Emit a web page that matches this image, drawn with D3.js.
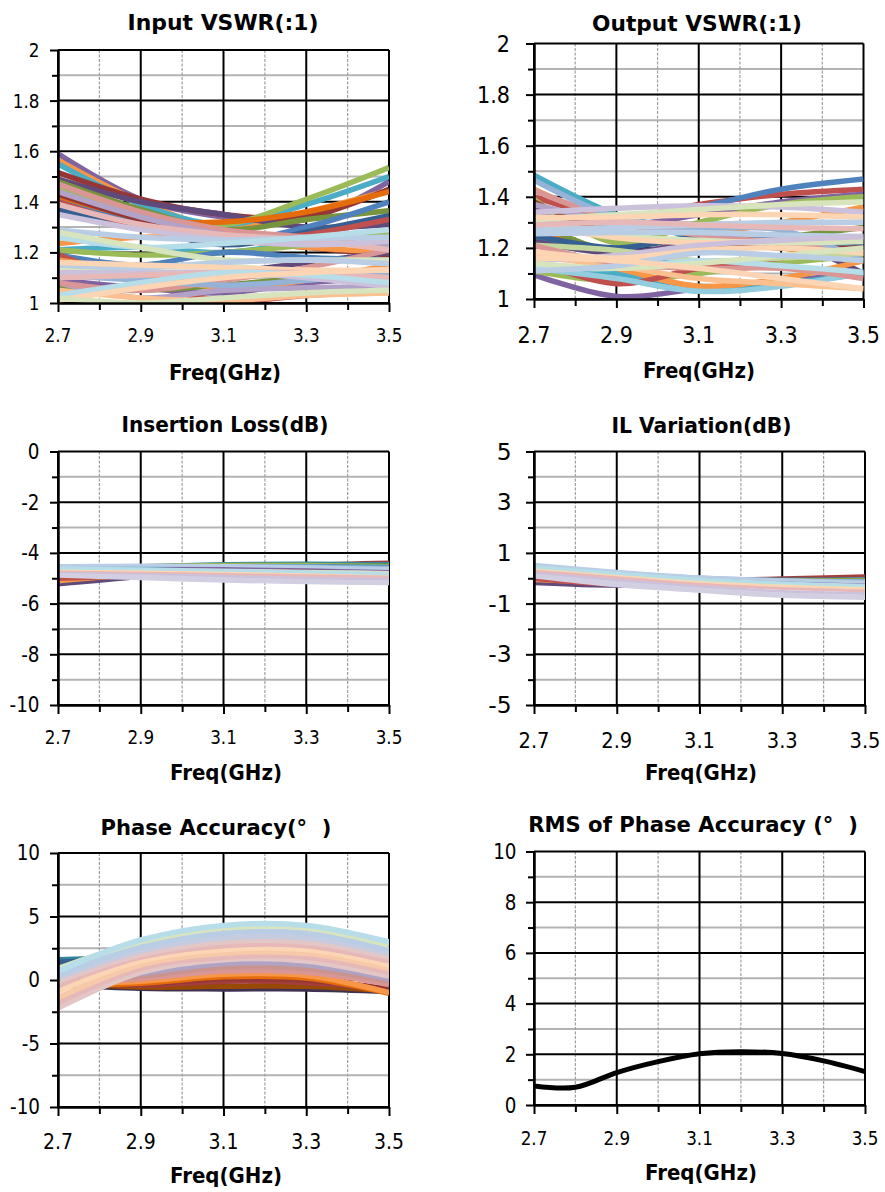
<!DOCTYPE html>
<html><head><meta charset="utf-8">
<script src="https://cdn.jsdelivr.net/npm/d3@7"></script>
<style>html,body{margin:0;padding:0;background:#fff}svg{display:block}</style>
</head><body>
<svg id="c" width="885" height="1192"></svg>
<script>
// ---------------- DATA ----------------
const freq5 = [2.7, 2.9, 3.1, 3.3, 3.5];
const freq9 = [2.7, 2.8, 2.9, 3.0, 3.1, 3.2, 3.3, 3.4, 3.5];
const xMajorTicks = [2.7, 2.9, 3.1, 3.3, 3.5];
const xMinorTicks = [2.8, 3.0, 3.2, 3.4];

const vswrTicks = [1, 1.2, 1.4, 1.6, 1.8, 2];
const vswrMinor = [1.1, 1.3, 1.5, 1.7, 1.9];
const ilTicks = [-10, -8, -6, -4, -2, 0];
const ilMinor = [-9, -7, -5, -3, -1];
const ilvTicks = [-5, -3, -1, 1, 3, 5];
const ilvMinor = [-4, -2, 0, 2, 4];
const phaseTicks = [-10, -5, 0, 5, 10];
const phaseMinor = [-7.5, -2.5, 2.5, 7.5];
const rmsTicks = [0, 2, 4, 6, 8, 10];
const rmsMinor = [1, 3, 5, 7, 9];

// Input VSWR, values at freq5
const inputVswr = [
 [1.59, 1.41, 1.34, 1.33, 1.48],
 [1.565, 1.40, 1.30, 1.36, 1.445],
 [1.55, 1.39, 1.31, 1.39, 1.50],
 [1.515, 1.41, 1.35, 1.34, 1.45],
 [1.49, 1.40, 1.35, 1.30, 1.31],
 [1.48, 1.37, 1.29, 1.33, 1.365],
 [1.45, 1.35, 1.31, 1.41, 1.535],
 [1.41, 1.33, 1.32, 1.36, 1.44],
 [1.40, 1.31, 1.24, 1.30, 1.40],
 [1.37, 1.30, 1.23, 1.28, 1.345],
 [1.40, 1.30, 1.24, 1.27, 1.33],
 [1.43, 1.33, 1.26, 1.22, 1.19],
 [1.235, 1.26, 1.25, 1.22, 1.20],
 [1.21, 1.22, 1.20, 1.24, 1.27],
 [1.21, 1.19, 1.20, 1.23, 1.28],
 [1.18, 1.12, 1.12, 1.16, 1.20],
 [1.19, 1.15, 1.20, 1.18, 1.17],
 [1.19, 1.08, 1.01, 1.03, 1.05],
 [1.09, 1.06, 1.04, 1.08, 1.10],
 [1.06, 1.05, 1.07, 1.10, 1.12],
 [1.17, 1.12, 1.06, 1.09, 1.15],
 [1.47, 1.36, 1.29, 1.26, 1.22],
 [1.44, 1.34, 1.27, 1.24, 1.23],
 [1.08, 1.02, 1.05, 1.06, 1.065],
 [1.05, 1.02, 1.01, 1.03, 1.04],
 [1.08, 1.05, 1.09, 1.14, 1.21],
 [1.11, 1.09, 1.07, 1.09, 1.12],
 [1.39, 1.31, 1.27, 1.25, 1.21],
 [1.35, 1.29, 1.25, 1.23, 1.245],
 [1.29, 1.26, 1.25, 1.255, 1.26],
 [1.26, 1.22, 1.235, 1.26, 1.29],
 [1.14, 1.14, 1.145, 1.12, 1.085],
 [1.28, 1.22, 1.17, 1.17, 1.17],
 [1.15, 1.14, 1.16, 1.17, 1.155],
 [1.16, 1.15, 1.14, 1.13, 1.13],
 [1.12, 1.12, 1.12, 1.10, 1.065],
 [1.10, 1.11, 1.12, 1.12, 1.10],
 [1.03, 1.08, 1.12, 1.11, 1.08],
 [1.01, 1.06, 1.10, 1.12, 1.13],
 [1.02, 1.00, 1.02, 1.04, 1.05]
];

// Output VSWR, values at freq5
const outputVswr = [
 [1.485, 1.33, 1.24, 1.22, 1.21],
 [1.43, 1.30, 1.26, 1.30, 1.36],
 [1.40, 1.32, 1.37, 1.41, 1.43],
 [1.33, 1.31, 1.36, 1.43, 1.47],
 [1.35, 1.29, 1.33, 1.38, 1.41],
 [1.39, 1.22, 1.30, 1.37, 1.40],
 [1.30, 1.18, 1.20, 1.24, 1.28],
 [1.275, 1.17, 1.23, 1.20, 1.165],
 [1.245, 1.18, 1.14, 1.15, 1.21],
 [1.225, 1.18, 1.22, 1.23, 1.10],
 [1.25, 1.20, 1.245, 1.24, 1.22],
 [1.38, 1.25, 1.22, 1.20, 1.20],
 [1.095, 1.01, 1.04, 1.07, 1.10],
 [1.11, 1.07, 1.10, 1.14, 1.17],
 [1.13, 1.10, 1.05, 1.06, 1.10],
 [1.18, 1.12, 1.05, 1.08, 1.15],
 [1.15, 1.06, 1.12, 1.16, 1.20],
 [1.425, 1.31, 1.25, 1.22, 1.18],
 [1.37, 1.30, 1.26, 1.25, 1.23],
 [1.465, 1.32, 1.28, 1.27, 1.15],
 [1.21, 1.19, 1.15, 1.16, 1.18],
 [1.12, 1.08, 1.03, 1.05, 1.105],
 [1.165, 1.13, 1.08, 1.06, 1.04],
 [1.21, 1.14, 1.12, 1.12, 1.08],
 [1.30, 1.25, 1.23, 1.22, 1.225],
 [1.29, 1.24, 1.22, 1.23, 1.245],
 [1.34, 1.355, 1.365, 1.36, 1.34],
 [1.31, 1.33, 1.35, 1.37, 1.38],
 [1.32, 1.32, 1.33, 1.33, 1.32],
 [1.27, 1.28, 1.29, 1.30, 1.30],
 [1.29, 1.30, 1.29, 1.28, 1.275],
 [1.255, 1.26, 1.26, 1.25, 1.245],
 [1.15, 1.17, 1.21, 1.23, 1.245],
 [1.185, 1.16, 1.19, 1.20, 1.18],
 [1.125, 1.12, 1.15, 1.13, 1.105],
 [1.14, 1.12, 1.14, 1.17, 1.20],
 [1.11, 1.13, 1.18, 1.17, 1.15],
 [1.16, 1.15, 1.12, 1.08, 1.04]
];

// Insertion loss (dB), values at freq5
const insertionLoss = [
 [-4.95, -4.90, -4.62, -4.45, -4.36],
 [-4.62, -4.50, -4.42, -4.40, -4.42],
 [-4.60, -4.52, -4.46, -4.45, -4.48],
 [-4.58, -4.50, -4.45, -4.45, -4.50],
 [-4.62, -4.55, -4.50, -4.50, -4.53],
 [-5.15, -4.95, -4.72, -4.63, -4.60],
 [-5.27, -4.98, -4.76, -4.66, -4.62],
 [-5.05, -4.92, -4.70, -4.60, -4.57],
 [-4.65, -4.58, -4.52, -4.52, -4.56],
 [-4.70, -4.65, -4.60, -4.60, -4.65],
 [-4.55, -4.50, -4.50, -4.52, -4.58],
 [-4.80, -4.78, -4.75, -4.75, -4.78],
 [-4.85, -4.82, -4.80, -4.80, -4.84],
 [-4.50, -4.48, -4.50, -4.55, -4.62],
 [-4.65, -4.66, -4.68, -4.72, -4.78],
 [-4.72, -4.74, -4.78, -4.82, -4.88],
 [-4.75, -4.80, -4.85, -4.90, -4.95],
 [-4.60, -4.63, -4.68, -4.74, -4.82],
 [-4.80, -4.86, -4.93, -5.00, -5.05],
 [-4.85, -4.92, -5.02, -5.10, -5.15],
 [-4.88, -4.96, -5.06, -5.14, -5.20],
 [-4.92, -5.02, -5.12, -5.18, -5.22]
];

// IL variation (dB), values at freq5
const ilVariation = [
 [-0.10, -0.25, -0.08, 0.02, 0.10],
 [0.20, 0.05, -0.02, -0.03, -0.02],
 [0.22, 0.03, -0.05, -0.05, -0.05],
 [0.25, 0.05, -0.05, -0.07, -0.07],
 [0.22, 0.05, -0.06, -0.10, -0.10],
 [-0.10, -0.30, -0.20, -0.15, -0.12],
 [-0.22, -0.32, -0.22, -0.17, -0.15],
 [-0.05, -0.28, -0.18, -0.12, -0.10],
 [0.25, 0.10, -0.03, -0.08, -0.12],
 [0.20, 0.05, -0.10, -0.15, -0.20],
 [0.50, 0.25, 0.05, -0.05, -0.10],
 [0.25, 0.00, -0.20, -0.30, -0.35],
 [0.20, -0.02, -0.24, -0.35, -0.40],
 [0.55, 0.28, 0.06, -0.06, -0.15],
 [0.40, 0.15, -0.10, -0.22, -0.32],
 [0.32, 0.07, -0.18, -0.32, -0.42],
 [0.28, 0.02, -0.24, -0.40, -0.50],
 [0.45, 0.20, -0.04, -0.18, -0.28],
 [0.20, -0.08, -0.34, -0.52, -0.60],
 [0.12, -0.18, -0.42, -0.62, -0.70],
 [0.08, -0.25, -0.48, -0.67, -0.75],
 [0.05, -0.30, -0.52, -0.72, -0.80]
];

// Phase accuracy (deg), values at freq5
const phaseAccuracy = [
 [1.60, 1.80, 2.00, 1.80, 1.00],
 [1.40, 1.70, 1.90, 1.70, 0.90],
 [-0.40, -0.65, -0.70, -0.70, -0.90],
 [-0.20, -0.55, -0.50, -0.50, -0.85],
 [-0.10, -0.40, -0.10, -0.20, -0.75],
 [-0.20, -0.30, 0.10, 0.00, -0.70],
 [-0.40, -0.25, 0.25, 0.15, -1.05],
 [-0.30, -0.10, 0.45, 0.35, -1.00],
 [-0.30, 0.10, 0.70, 0.60, -0.35],
 [-0.50, 0.30, 1.00, 0.90, -0.10],
 [-0.60, 0.50, 1.30, 1.20, 0.10],
 [-2.20, 0.60, 1.60, 1.50, 0.30],
 [-1.80, 0.90, 1.80, 1.80, 0.60],
 [-1.40, 1.20, 2.10, 2.10, 0.90],
 [-0.90, 1.50, 2.40, 2.40, 1.20],
 [-0.40, 1.80, 2.70, 2.70, 1.50],
 [-0.10, 2.00, 3.00, 3.00, 1.80],
 [0.20, 2.30, 3.30, 3.30, 2.10],
 [0.40, 2.60, 3.70, 3.70, 2.40],
 [0.90, 3.00, 4.10, 4.10, 2.75],
 [0.70, 3.15, 4.30, 4.30, 3.00]
];

// RMS of phase accuracy (deg), values at freq9
const rmsPhase = [0.75, 0.70, 1.28, 1.71, 2.02, 2.10, 2.03, 1.74, 1.32];

// ---------------- STYLE ----------------
const PAL = {
 blue:'#4F81BD', red:'#C0504D', green:'#9BBB59', purple:'#8064A2', aqua:'#4BACC6', orange:'#F79646',
 dblue:'#376092', dred:'#953735', dgreen:'#77933C', dpurple:'#604A7B', daqua:'#31859C', dorange:'#E46C0A',
 ddpurple:'#3F3151', brown:'#984807', maroon:'#A23E3B',
 l40blue:'#95B3D7', l40red:'#D99694', l40green:'#C3D69B', l40purple:'#B3A2C7', l40aqua:'#93CDDD', l40orange:'#FAC090',
 l60blue:'#B9CDE5', l60red:'#E6B9B8', l60green:'#D7E4BD', l60purple:'#CCC1DA', l60aqua:'#B7DEE8', l60orange:'#FCD5B5',
 lav:'#D3CFE2', grayblue:'#C5CCE0', pinkgray:'#E3C7C6', mauve:'#C99390', lavgray:'#AFA3C3', peach2:'#F8C9A8'
};
const inColors = ['purple','orange','aqua','dred','dpurple','dgreen','green','dorange','blue','dblue','red','dred',
 'orange','aqua','green','dpurple','blue','red','purple','dgreen','orange',
 'l40red','l40purple','l40purple','l40orange','l40red','l40blue',
 'l60red','l60purple','l60blue','l60aqua','l60green','l60green','l60blue','l60orange','l60purple','l60red','l60aqua','l60orange','l60green'];
const outColors = ['aqua','orange','red','blue','purple','green','dgreen','dorange','daqua','dpurple','dblue','dred',
 'purple','green','aqua','orange','red',
 'l40red','l40purple','l40blue','l40green','l40aqua','l40orange','l40red',
 'l60green','l60orange','l60purple','l60green','l60orange','l60blue','l60red','l60blue','l60purple','l60orange','l60aqua','l60green','l60blue','l60orange'];
const ilColors = ['maroon','daqua','dgreen','green','blue','orange','dpurple','red','aqua','purple',
 'l40blue','l40red','l40orange','l60blue','l60green','l60orange','l60red','l60aqua','l60purple','lav','lav','lav'];
const phColors = ['daqua','dblue','ddpurple','brown','maroon','dred','dorange','orange','l40red','mauve','lavgray',
 'pinkgray','l60red','peach2','l60orange','l60red','pinkgray','grayblue','l60blue','l60green','l60aqua'];

// ---------------- RENDER ----------------
const svg = d3.select('#c');
svg.append('rect').attr('width',885).attr('height',1192).attr('fill','#fff');

function hasFont(name){
  const ctx = document.createElement('canvas').getContext('2d');
  const t = 'mmmmmmmmmlli10.5WW';
  ctx.font = '40px monospace'; const a = ctx.measureText(t).width;
  ctx.font = `40px "${name}", monospace`; const b = ctx.measureText(t).width;
  return Math.abs(a-b) > 0.5;
}
const FONT = hasFont('DejaVu Sans Condensed') ? '"DejaVu Sans Condensed", "DejaVu Sans", sans-serif' : '"DejaVu Sans", "Liberation Sans", sans-serif';

const meas = svg.append('text').attr('font-family', FONT).style('white-space','pre').attr('x',-2000).attr('y',-2000);
function natW(str, size, bold){
  meas.attr('font-size', size).attr('font-weight', bold ? 'bold' : 'normal').text(str);
  return meas.node().getComputedTextLength();
}
function txt(g, x, y, str, size, opt={}){
  return g.append('text')
    .attr('transform', `translate(${x},${y}) scale(${opt.sx||1},1)`)
    .attr('text-anchor', opt.anchor || 'middle')
    .attr('font-family', FONT).attr('font-size', size)
    .attr('font-weight', opt.bold ? 'bold' : 'normal')
    .style('white-space','pre').attr('fill','#000').text(str);
}

const freqTitle = 'Freq(GHz)';

function panel(L, series, freqs, colors, lw){
  const x = d3.scaleLinear().domain([2.7, 3.5]).range([L.x0, L.x1]);
  const y = d3.scaleLinear().domain([L.ticks[0], L.ticks[L.ticks.length-1]]).range([L.y1, L.y0]);
  const g = svg.append('g');

  g.append('g').selectAll('line').data(L.minor).join('line')
    .attr('x1', L.x0).attr('x2', L.x1).attr('y1', d => y(d)).attr('y2', d => y(d))
    .attr('stroke', '#B3B3B3').attr('stroke-width', 2);
  g.append('g').selectAll('line').data(xMinorTicks).join('line')
    .attr('x1', d => x(d)).attr('x2', d => x(d)).attr('y1', L.y0).attr('y2', L.y1)
    .attr('stroke', '#A0A0A0').attr('stroke-width', 1.2).attr('stroke-dasharray', '3,1.5');
  g.append('g').selectAll('line').data(L.ticks).join('line')
    .attr('x1', L.x0).attr('x2', L.x1).attr('y1', d => y(d)).attr('y2', d => y(d))
    .attr('stroke', '#000').attr('stroke-width', 2);
  g.append('g').selectAll('line').data(xMajorTicks).join('line')
    .attr('x1', d => x(d)).attr('x2', d => x(d)).attr('y1', L.y0).attr('y2', L.y1)
    .attr('stroke', '#000').attr('stroke-width', 2);

  const cid = 'clip' + L.id;
  svg.append('clipPath').attr('id', cid).append('rect')
    .attr('x', L.x0).attr('y', L.y0).attr('width', L.x1 - L.x0).attr('height', L.y1 - L.y0);
  const line = d3.line().x(d => x(d[0])).y(d => y(d[1])).curve(d3.curveCatmullRom.alpha(0.5));
  g.append('g').attr('clip-path', `url(#${cid})`).selectAll('path').data(series).join('path')
    .attr('d', s => line(freqs.map((f, i) => [f, s[i]])))
    .attr('fill', 'none').attr('stroke', (s, i) => PAL[colors[i]] || colors[i])
    .attr('stroke-width', lw).attr('stroke-linejoin', 'round').attr('stroke-linecap', 'butt');

  const styleAxis = sel => { sel.selectAll('line').attr('stroke', '#000').attr('stroke-width', 2);
    sel.select('.domain').attr('stroke', '#000').attr('stroke-width', 2); };
  g.append('g').attr('transform', `translate(${L.x0},0)`)
    .call(d3.axisLeft(y).tickValues(L.minor).tickSize(6).tickSizeOuter(0).tickFormat('')).call(styleAxis);
  g.append('g').attr('transform', `translate(${L.x0},0)`)
    .call(d3.axisLeft(y).tickValues(L.ticks).tickSize(8).tickSizeOuter(0).tickFormat('')).call(styleAxis);
  g.append('g').attr('transform', `translate(0,${L.y1})`)
    .call(d3.axisBottom(x).tickValues(xMinorTicks).tickSize(7).tickSizeOuter(0).tickFormat('')).call(styleAxis);
  g.append('g').attr('transform', `translate(0,${L.y1})`)
    .call(d3.axisBottom(x).tickValues(xMajorTicks).tickSize(9).tickSizeOuter(0).tickFormat('')).call(styleAxis);

  // tick labels: font size from glyph height, horizontal squeeze from measured width
  const ys = L.ySize, ysx = L.ytW / natW(L.ytRef, ys, false);
  L.ticks.forEach(v => txt(g, L.ytRight, y(v) + 0.36 * ys, String(v), ys, {anchor: 'end', sx: ysx}));
  const xs = L.xSize, xsx = L.xtW / natW('2.7', xs, false);
  xMajorTicks.forEach(v => txt(g, x(v), L.xtY + 0.36 * xs, String(v), xs, {sx: xsx}));

  const tsx = L.titleW / natW(L.title, L.titleSize, true);
  txt(g, L.titleX, L.titleY, L.title, L.titleSize, {bold: true, sx: tsx});
  const asx = 112 / natW(freqTitle, 21, true);
  txt(g, L.axX, L.axY, freqTitle, 21, {bold: true, sx: asx});
}

const LAYOUT = [
 {id:1, title:'Input VSWR(:1)', ticks:vswrTicks, minor:vswrMinor, x0:58, x1:389, y0:50, y1:303,
  titleX:223, titleY:30, titleW:191, titleSize:22, axX:225, axY:380,
  ytRight:39.5, ytRef:'1.8', ytW:26.7, ySize:19.5, xtY:335, xtW:26.7, xSize:20},
 {id:2, title:'Output VSWR(:1)', ticks:vswrTicks, minor:vswrMinor, x0:534, x1:863.5, y0:43.5, y1:299,
  titleX:697, titleY:30.5, titleW:210, titleSize:22, axX:699, axY:378,
  ytRight:510, ytRef:'1.8', ytW:33, ySize:23, xtY:335, xtW:33, xSize:23},
 {id:3, title:'Insertion Loss(dB)', ticks:ilTicks, minor:ilMinor, x0:58, x1:389, y0:451.5, y1:705,
  titleX:225, titleY:432, titleW:207, titleSize:21, axX:226, axY:780,
  ytRight:39.5, ytRef:'-10', ytW:30, ySize:20.5, xtY:737, xtW:26.7, xSize:20},
 {id:4, title:'IL Variation(dB)', ticks:ilvTicks, minor:ilvMinor, x0:534, x1:865, y0:451.5, y1:705,
  titleX:701.5, titleY:433, titleW:180, titleSize:21, axX:701, axY:780,
  ytRight:511.5, ytRef:'-5', ytW:23.3, ySize:22.5, xtY:740, xtW:31, xSize:22},
 {id:5, title:'Phase Accuracy(°  )', ticks:phaseTicks, minor:phaseMinor, x0:58, x1:389, y0:853, y1:1107,
  titleX:216, titleY:835, titleW:231, titleSize:22, axX:226, axY:1183,
  ytRight:40, ytRef:'-10', ytW:30, ySize:20.5, xtY:1141, xtW:30, xSize:21.5},
 {id:6, title:'RMS of Phase Accuracy (°  )', ticks:rmsTicks, minor:rmsMinor, x0:534, x1:865, y0:851.5, y1:1105,
  titleX:693, titleY:831.5, titleW:330, titleSize:21.5, axX:701, axY:1180,
  ytRight:516.5, ytRef:'10', ytW:23.3, ySize:21, xtY:1138, xtW:26.7, xSize:19.5}
];

panel(LAYOUT[0], inputVswr, freq5, inColors, 5.5);
panel(LAYOUT[1], outputVswr, freq5, outColors, 5.5);
panel(LAYOUT[2], insertionLoss, freq5, ilColors, 3);
panel(LAYOUT[3], ilVariation, freq5, ilColors, 3);
panel(LAYOUT[4], phaseAccuracy, freq5, phColors, 5.5);
panel(LAYOUT[5], [rmsPhase], freq9, ['#000'], 5);
meas.remove();
</script>
</body></html>
